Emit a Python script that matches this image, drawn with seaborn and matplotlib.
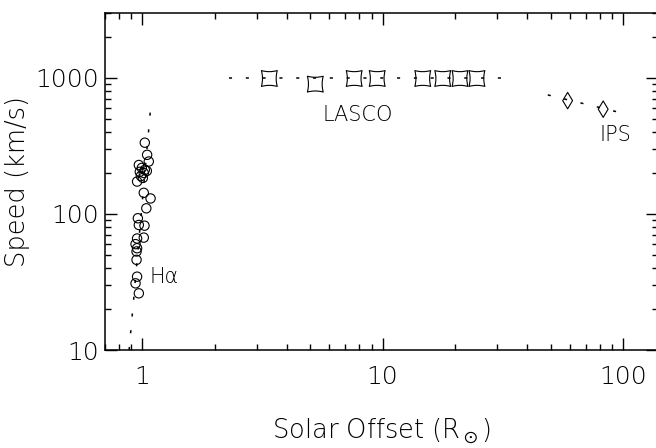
import numpy as np
import pandas as pd
import matplotlib
matplotlib.use("Agg")
import matplotlib.pyplot as plt
import seaborn as sns
from matplotlib.path import Path

# H-alpha measurements (solar offset in R_sun, speed in km/s)
halpha_offset = [1.025, 1.048, 1.065, 0.968, 0.996, 1.025, 0.977, 1.015, 1.045,
                 0.987, 1.006, 0.952, 1.015, 1.083, 1.040, 0.959, 0.968, 1.022,
                 0.952, 1.015, 0.938, 0.952, 0.947, 0.947, 0.952, 0.938, 0.968]
halpha_speed = [334, 272, 243, 229, 218, 211, 204, 200, 207,
                190, 184, 173, 143, 130, 110, 93, 83, 82,
                66, 67, 60, 56, 53, 46, 34.6, 30.9, 26.1]
halpha_fit_offset = [0.882, 1.088]
halpha_fit_speed = [10, 650]

# LASCO measurements
lasco_offset = [3.38, 5.25, 7.62, 9.5, 14.7, 17.8, 21.0, 24.7]
lasco_speed = [990, 900, 990, 990, 990, 990, 990, 990]
lasco_fit_offset = [2.3, 32]
lasco_fit_speed = [1000, 1000]

# IPS measurements
ips_offset = [58.9, 82.8]
ips_speed = [681, 589]
ips_fit_offset = [48.7, 100]
ips_fit_speed = [750, 550]

sns.set_style("ticks")
plt.rcParams["font.family"] = ["DejaVu Sans"]
plt.rcParams["font.weight"] = "light"
plt.rcParams["axes.labelweight"] = "light"
plt.rcParams["mathtext.fontset"] = "dejavusans"
plt.rcParams["text.color"] = "black"
plt.rcParams["axes.labelcolor"] = "black"
plt.rcParams["axes.linewidth"] = 1.1
plt.rcParams["xtick.direction"] = "in"
plt.rcParams["ytick.direction"] = "in"

# concave square marker
star_square = Path(
    [(-1, -1), (0, -0.72), (1, -1), (0.72, 0), (1, 1), (0, 0.72),
     (-1, 1), (-0.72, 0), (-1, -1), (-1, -1)],
    [Path.MOVETO, Path.CURVE3, Path.CURVE3, Path.CURVE3, Path.CURVE3,
     Path.CURVE3, Path.CURVE3, Path.CURVE3, Path.CURVE3, Path.CLOSEPOLY]
)

fig = plt.figure(figsize=(6.56, 4.48), dpi=100)
ax = fig.add_axes([105 / 656, 1 - 350 / 448, 553 / 656, 337 / 448])

dots = (0, (2, 9))
for xs, ys in [(halpha_fit_offset, halpha_fit_speed),
               (lasco_fit_offset, lasco_fit_speed),
               (ips_fit_offset, ips_fit_speed)]:
    sns.lineplot(x=xs, y=ys, ax=ax, color="black", linewidth=1.1,
                 linestyle=dots, sort=False, estimator=None)

sns.scatterplot(x=halpha_offset, y=halpha_speed, ax=ax, marker="o", s=45,
                facecolor="none", edgecolor="black", linewidth=0.8)
sns.scatterplot(x=lasco_offset, y=lasco_speed, ax=ax, marker=star_square, s=130,
                facecolor="none", edgecolor="black", linewidth=0.8)
sns.scatterplot(x=ips_offset, y=ips_speed, ax=ax, marker="d", s=70,
                facecolor="none", edgecolor="black", linewidth=0.8)

ax.set_xscale("log")
ax.set_yscale("log")
ax.set_xlim(0.7, 140)
ax.set_ylim(10, 3000)

ax.set_xticks([1, 10, 100])
ax.set_xticklabels(["1", "10", "100"])
ax.set_yticks([10, 100, 1000])
ax.set_yticklabels(["10", "100", "1000"])

ax.tick_params(axis="both", which="both", top=True, right=True, colors="black",
               labelsize=18)
ax.tick_params(axis="both", which="major", length=8.5, width=1.0)
ax.tick_params(axis="both", which="minor", length=4.5, width=1.0)
ax.tick_params(axis="x", which="major", pad=11)
ax.tick_params(axis="y", which="major", pad=4)

for spine in ax.spines.values():
    spine.set_color("black")

ax.set_xlabel(r"Solar Offset (R$_\odot$)", fontsize=18.5, labelpad=20)
ax.set_ylabel("Speed (km/s)", fontsize=18.5, labelpad=4)

ax.text(7.9, 535, "LASCO", fontsize=15, ha="center", va="center")
ax.text(93, 381, "IPS", fontsize=15, ha="center", va="center")
ax.text(1.07, 34.4, "Hα", fontsize=15, ha="left", va="center")

fig.savefig("out.png", dpi=100)
